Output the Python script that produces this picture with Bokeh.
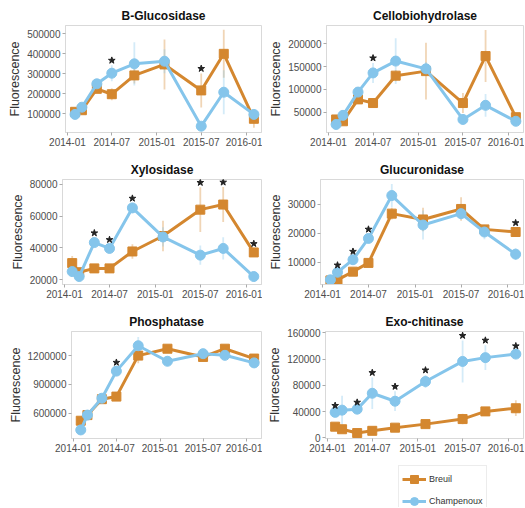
import numpy as np
from bokeh.plotting import figure
from bokeh.models import (ColumnDataSource, Range1d, FixedTicker, DatetimeTickFormatter,
                          BasicTickFormatter, Legend, LegendItem, Spacer)
from bokeh.layouts import column, row
from bokeh.embed import file_html
from bokeh.resources import INLINE

# ---------------- data ----------------
dates = ["2014-02-01", "2014-03-01", "2014-05-01", "2014-07-01", "2014-10-01",
         "2015-02-01", "2015-07-01", "2015-10-01", "2016-02-01"]
x_tick_dates = ["2014-01-01", "2014-07-01", "2015-01-01", "2015-07-01", "2016-01-01"]
x_limits = ["2013-12-24", "2016-03-03"]
sites = ["Breuil", "Champenoux"]

bglu_breuil = [110000, 118000, 225000, 198000, 292000, 347000, 217000, 400000, 75000]
bglu_breuil_err = [12000, 15000, 20000, 30000, 40000, 125000, 85000, 120000, 45000]
bglu_champ = [97000, 133000, 250000, 303000, 350000, 363000, 38000, 208000, 97000]
bglu_champ_err = [10000, 12000, 20000, 40000, 108000, 60000, 12000, 110000, 25000]
bglu_sig = [3, 6]
bglu_yticks = [100000, 200000, 300000, 400000, 500000]
bglu_ylim = [6500, 541700]

cbh_breuil = [34000, 30000, 78000, 70000, 130000, 140000, 70000, 173000, 39000]
cbh_breuil_err = [5000, 5000, 8000, 8000, 12000, 62000, 22000, 57000, 6000]
cbh_champ = [23000, 43000, 94000, 136000, 162000, 145000, 34000, 65000, 30000]
cbh_champ_err = [4000, 6000, 8000, 22000, 50000, 15000, 5000, 25000, 5000]
cbh_sig = [3]
cbh_yticks = [50000, 100000, 150000, 200000]
cbh_ylim = [5400, 240000]

xyl_breuil = [30500, 24800, 27200, 27200, 37800, 47500, 64000, 67200, 37200]
xyl_breuil_err = [4500, 2000, 2000, 2000, 4500, 9500, 14000, 11000, 2500]
xyl_champ = [25200, 22100, 43400, 39700, 65100, 46900, 35500, 39700, 22100]
xyl_champ_err = [3000, 2000, 3000, 2500, 3000, 6000, 6000, 7000, 1500]
xyl_sig = [2, 3, 4, 6, 7, 8]
xyl_yticks = [20000, 40000, 60000, 80000]
xyl_ylim = [17100, 82900]

glu_breuil = [3800, 4000, 6800, 9800, 26700, 24700, 28300, 21300, 20400]
glu_breuil_err = [500, 600, 800, 1000, 2000, 4000, 4000, 1500, 1500]
glu_champ = [4000, 6600, 10900, 18200, 32900, 22800, 26700, 20400, 12800]
glu_champ_err = [600, 800, 1200, 1500, 4000, 5000, 2000, 2500, 2000]
glu_sig = [1, 2, 3, 8]
glu_yticks = [10000, 20000, 30000]
glu_ylim = [2400, 38400]

pho_breuil = [520000, 579000, 745000, 772000, 1200000, 1272000, 1186000, 1272000, 1169000]
pho_breuil_err = [30000, 30000, 30000, 30000, 80000, 40000, 40000, 40000, 30000]
pho_champ = [424000, 579000, 755000, 1038000, 1303000, 1141000, 1220000, 1203000, 1124000]
pho_champ_err = [30000, 30000, 30000, 40000, 90000, 50000, 40000, 30000, 30000]
pho_sig = [3]
pho_yticks = [600000, 900000, 1200000]
pho_ylim = [334500, 1451700]

exo_breuil = [17000, 13100, 7300, 10700, 15500, 20900, 28600, 40300, 45100]
exo_breuil_err = [3000, 3000, 2500, 3000, 3000, 6000, 8000, 5000, 12000]
exo_champ = [38800, 42200, 43700, 67900, 55800, 85800, 116400, 122200, 127600]
exo_champ_err = [3000, 22000, 3000, 24000, 15000, 10000, 32000, 19000, 5000]
exo_sig = [0, 2, 3, 4, 5, 6, 7, 8]
exo_yticks = [0, 40000, 80000, 120000, 160000]
exo_ylim = [-1000, 162000]

# ---------------- style ----------------
ORANGE = "#D4872F"
BLUE = "#85C5EB"
FONT = "Liberation Sans"
FRAME = "#D9D9D9"


def ms(s):
    return np.datetime64(s, "ms").astype("int64").astype(float)


x_ticks = [ms(d) for d in x_tick_dates]
x_dt = np.array(dates, dtype="datetime64[ms]")


def panel(title, b, be, c, ce, sig, yticks, ylim, width, height, mbl, mbt, mbb, mbr):
    p = figure(width=width, height=height, x_axis_type="datetime",
               x_range=Range1d(ms(x_limits[0]), ms(x_limits[1])),
               y_range=Range1d(ylim[0], ylim[1]),
               toolbar_location=None, output_backend="svg",
               min_border_left=mbl, min_border_top=mbt,
               min_border_bottom=mbb, min_border_right=mbr)
    p.title.text = title
    p.title.align = "center"
    p.title.text_font = FONT
    p.title.text_font_size = "12px"
    p.title.text_font_style = "bold"
    p.title.text_color = "#111111"
    p.title.standoff = 5
    p.outline_line_color = FRAME
    p.background_fill_color = "white"
    p.border_fill_color = "white"
    p.xgrid.visible = False
    p.ygrid.visible = False

    b = np.array(b, float); be = np.array(be, float)
    c = np.array(c, float); ce = np.array(ce, float)
    src = ColumnDataSource(dict(x=x_dt, b=b, b_lo=b - be, b_hi=b + be,
                                c=c, c_lo=c - ce, c_hi=c + ce))
    p.segment(x0="x", y0="b_lo", x1="x", y1="b_hi", source=src,
              line_color=ORANGE, line_alpha=0.35, line_width=1.8)
    p.segment(x0="x", y0="c_lo", x1="x", y1="c_hi", source=src,
              line_color=BLUE, line_alpha=0.35, line_width=1.8)
    p.line("x", "b", source=src, line_color=ORANGE, line_width=3)
    p.scatter("x", "b", source=src, marker="square", size=9, color=ORANGE)
    p.line("x", "c", source=src, line_color=BLUE, line_width=3)
    p.scatter("x", "c", source=src, marker="circle", size=10, color=BLUE)

    top = np.maximum(b + be, c + ce)
    pad = 0.045 * (ylim[1] - ylim[0])
    star = ColumnDataSource(dict(x=x_dt[sig], y=top[sig] + pad))
    p.scatter("x", "y", source=star, marker="star", size=7, color="#222222")

    p.xaxis.ticker = FixedTicker(ticks=x_ticks)
    fmt = "%Y-%m"
    p.xaxis.formatter = DatetimeTickFormatter(months=fmt, days=fmt, years=fmt,
                                              hours=fmt, minutes=fmt)
    p.yaxis.ticker = FixedTicker(ticks=yticks)
    p.yaxis.formatter = BasicTickFormatter(use_scientific=False)
    p.yaxis.axis_label = "Fluorescence"
    p.yaxis.axis_label_text_font = FONT
    p.yaxis.axis_label_text_font_size = "12.5px"
    p.yaxis.axis_label_text_font_style = "normal"
    p.yaxis.axis_label_text_color = "#333333"
    p.yaxis.axis_label_standoff = 2
    for ax in (p.xaxis, p.yaxis):
        ax.axis_line_color = FRAME
        ax.major_tick_line_color = "#AAAAAA"
        ax.major_tick_out = 3
        ax.major_tick_in = 0
        ax.minor_tick_out = 0
        ax.minor_tick_in = 0
        ax.major_label_text_font = FONT
        ax.major_label_text_font_size = "10px"
        ax.major_label_text_color = "#4D4D4D"
        ax.major_label_standoff = 2
    return p


p1 = panel("B-Glucosidase", bglu_breuil, bglu_breuil_err, bglu_champ, bglu_champ_err,
           bglu_sig, bglu_yticks, bglu_ylim, 262, 158, 65, 25, 26, 1)
p2 = panel("Cellobiohydrolase", cbh_breuil, cbh_breuil_err, cbh_champ, cbh_champ_err,
           cbh_sig, cbh_yticks, cbh_ylim, 262, 158, 64, 25, 26, 1)
p3 = panel("Xylosidase", xyl_breuil, xyl_breuil_err, xyl_champ, xyl_champ_err,
           xyl_sig, xyl_yticks, xyl_ylim, 262, 152, 62, 20, 26, 1)
p4 = panel("Glucuronidase", glu_breuil, glu_breuil_err, glu_champ, glu_champ_err,
           glu_sig, glu_yticks, glu_ylim, 262, 152, 58, 20, 26, 1)
p5 = panel("Phosphatase", pho_breuil, pho_breuil_err, pho_champ, pho_champ_err,
           pho_sig, pho_yticks, pho_ylim, 262, 150, 71, 20, 22, 1)
p6 = panel("Exo-chitinase", exo_breuil, exo_breuil_err, exo_champ, exo_champ_err,
           exo_sig, exo_yticks, exo_ylim, 262, 150, 63, 20, 22, 1)

# legend panel
pl = figure(width=262, height=47, x_range=Range1d(0, 1), y_range=Range1d(0, 1),
            toolbar_location=None, output_backend="svg", min_border=0,
            x_axis_location=None, y_axis_location=None)
pl.outline_line_color = None
pl.xgrid.visible = False
pl.ygrid.visible = False
hidden = ColumnDataSource(dict(x=[5.0], y=[5.0]))
lb = pl.line("x", "y", source=hidden, line_color=ORANGE, line_width=3)
sb = pl.scatter("x", "y", source=hidden, marker="square", size=9, color=ORANGE)
lc = pl.line("x", "y", source=hidden, line_color=BLUE, line_width=3)
sc = pl.scatter("x", "y", source=hidden, marker="circle", size=10, color=BLUE)
legend = Legend(items=[LegendItem(label=sites[0], renderers=[lb, sb]),
                       LegendItem(label=sites[1], renderers=[lc, sc])],
                location=(136, -8), border_line_color=FRAME,
                label_text_font=FONT, label_text_font_size="9px",
                label_text_color="#333333", glyph_width=24, glyph_height=20,
                label_height=20, spacing=2, padding=3, margin=0,
                label_standoff=3, label_width=50)
pl.add_layout(legend)

layout = column(row(p1, p2), row(p3, p4), row(p5, p6),
                row(Spacer(width=262, height=47), pl))

with open("out.html", "w") as f:
    f.write(file_html(layout, INLINE, title="Enzyme activities"))
